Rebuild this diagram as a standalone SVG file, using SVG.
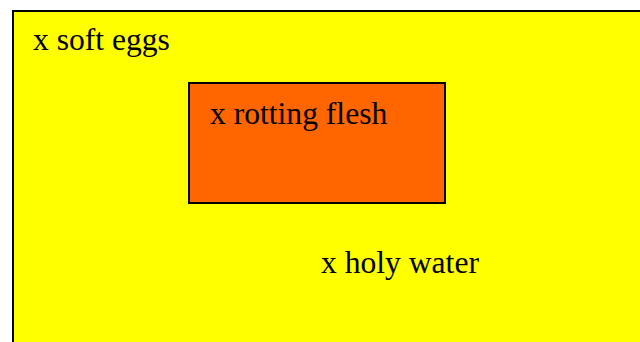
<svg xmlns="http://www.w3.org/2000/svg" width="640" height="342" viewBox="0 0 640 342">
  <style>
    .box { stroke: #000; stroke-width: 2; }
    .outer { fill: #ffff00; }
    .inner { fill: #ff6600; }
    .label { font-family: "Liberation Serif", "Times New Roman", serif; font-size: 31.6px; fill: #000; }
  </style>
  <rect width="640" height="342" fill="#ffffff"/>
  <g id="outer-region">
    <rect class="box outer" x="13" y="11" width="640" height="350"/>
    <text class="label" x="33" y="50">x soft eggs</text>
    <text class="label" x="321" y="273">x holy water</text>
  </g>
  <g id="inner-region">
    <rect class="box inner" x="189" y="83" width="256" height="120"/>
    <text class="label" x="210" y="124">x rotting flesh</text>
  </g>
  <g id="connectors"></g>
</svg>
